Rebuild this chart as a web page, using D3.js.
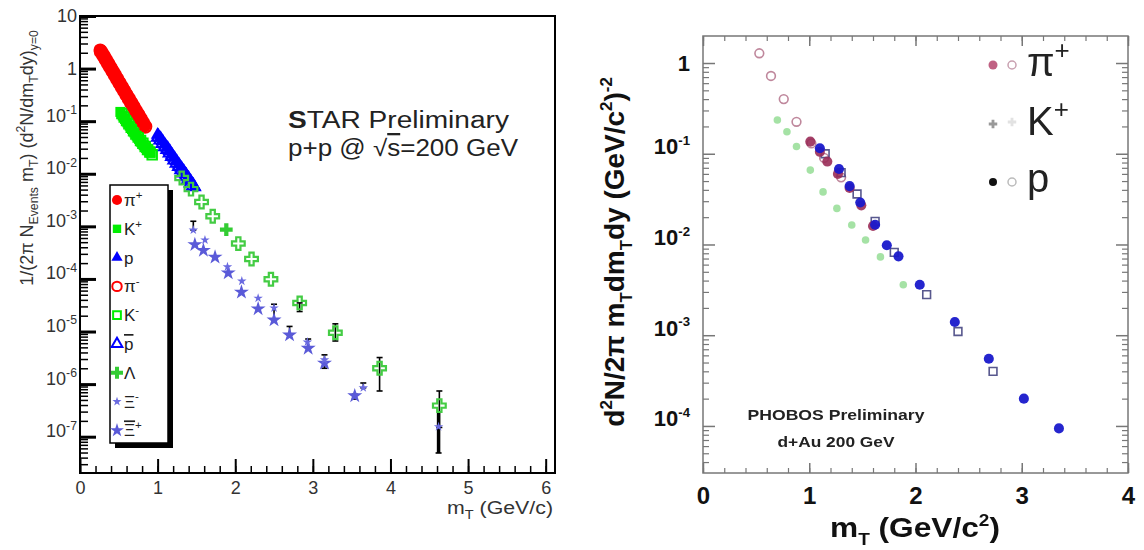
<!DOCTYPE html>
<html><head><meta charset="utf-8">
<script src="https://cdn.jsdelivr.net/npm/d3@7"></script>
<style>
body{margin:0;background:#fff}
svg{display:block}
text{font-family:Arial,"Liberation Sans",Helvetica,sans-serif}
</style></head>
<body><svg id="c" width="1144" height="550"></svg>
<script>
// ---------------- LEFT PANEL DATA (STAR p+p) ----------------
const leftXTicks = [0,1,2,3,4,5,6];
const leftYExps = [1,0,-1,-2,-3,-4,-5,-6,-7];
const piPlus = [[0.26,2.25],[0.29,1.90],[0.32,1.60],[0.35,1.35],[0.38,1.12],[0.41,0.95],[0.44,0.80],[0.47,0.67],[0.50,0.56],[0.53,0.47],[0.56,0.40],[0.59,0.335],[0.62,0.28],[0.65,0.235],[0.68,0.20],[0.71,0.165],[0.74,0.14],[0.77,0.117],[0.80,0.098],[0.83,0.082]];
const piMinus = [[0.27,2.10],[0.30,1.78],[0.33,1.50],[0.36,1.26],[0.39,1.06],[0.42,0.89],[0.45,0.75],[0.48,0.63],[0.51,0.53],[0.54,0.445],[0.57,0.375],[0.60,0.315],[0.63,0.265],[0.66,0.223],[0.69,0.188],[0.72,0.158],[0.75,0.133],[0.78,0.112],[0.81,0.094],[0.84,0.079]];
const kPlus = [[0.52,0.150],[0.55,0.128],[0.58,0.110],[0.61,0.095],[0.64,0.082],[0.67,0.071],[0.70,0.061],[0.73,0.053],[0.76,0.046],[0.79,0.040],[0.82,0.035],[0.85,0.031],[0.88,0.028],[0.91,0.025]];
const kMinus = [[0.54,0.140],[0.57,0.120],[0.60,0.103],[0.63,0.089],[0.66,0.077],[0.69,0.066],[0.72,0.057],[0.75,0.050],[0.78,0.043],[0.81,0.038],[0.84,0.033],[0.87,0.029],[0.90,0.026],[0.93,0.023]];
const proton = [[1.00,0.055],[1.03,0.048],[1.06,0.042],[1.09,0.036],[1.12,0.031],[1.15,0.027],[1.18,0.023],[1.21,0.020],[1.24,0.0175],[1.27,0.0150],[1.30,0.0130],[1.33,0.0113],[1.36,0.0098],[1.39,0.0085],[1.42,0.0073],[1.45,0.0063],[1.48,0.0055]];
const pBar = [[1.01,0.050],[1.04,0.044],[1.07,0.038],[1.10,0.033],[1.13,0.029],[1.16,0.025],[1.19,0.0215],[1.22,0.0185],[1.25,0.016],[1.28,0.0138],[1.31,0.012],[1.34,0.0104],[1.37,0.009],[1.40,0.0078],[1.43,0.0067],[1.46,0.0058]];
const lambda = [[1.885,0.00087]];
const lambdaOpen = [[1.31,0.0083],[1.43,0.0051],[1.566,0.0029],[1.71,0.00155],[2.04,0.00047],[2.21,0.00024],[2.46,0.000099],[2.83,0.000035],[3.29,0.0000095],[3.86,0.0000020],[4.63,0.00000039]];
const xiMinus = [[1.46,0.00085],[1.61,0.00055],[1.90,0.00017],[2.085,0.000091],[2.295,0.000043],[2.50,0.000028],[2.93,0.0000063],[3.15,0.0000029],[3.65,0.00000085],[4.62,0.000000155]];
const xiBarPlus = [[1.48,0.00045],[1.59,0.00035],[1.74,0.00026],[1.91,0.00013],[2.08,0.000056],[2.295,0.000027],[2.50,0.0000166],[2.70,0.0000086],[2.94,0.0000048],[3.15,0.0000025],[3.54,0.00000060]];
const errBars = [[1.46,0.00085,0.00125],[2.50,0.0000166,0.000033],[2.70,0.0000086,0.0000125],[2.94,0.0000048,0.0000072],[3.15,0.0000020,0.0000036],[3.54,0.00000052,0.00000064],[3.65,0.00000085,0.00000105],[2.83,0.000024,0.000035],[3.29,0.0000066,0.000014],[3.86,0.00000074,0.0000032],[4.63,0.00000015,0.00000074]];
const bigErr = [[4.62,0.000000049,0.00000030]];
const leftLegend = [
  {key:"piPlus", parts:[{t:"π"},{t:"+",sup:1}]},
  {key:"kPlus", parts:[{t:"K"},{t:"+",sup:1}]},
  {key:"proton", parts:[{t:"p"}]},
  {key:"piMinus", parts:[{t:"π"},{t:"-",sup:1}]},
  {key:"kMinus", parts:[{t:"K"},{t:"-",sup:1}]},
  {key:"pBar", parts:[{t:"p",over:1}]},
  {key:"lambda", parts:[{t:"Λ"}]},
  {key:"xiMinus", parts:[{t:"Ξ"},{t:"-",sup:1}]},
  {key:"xiBarPlus", parts:[{t:"Ξ",over:1},{t:"+",sup:1}]}
];

// ---------------- RIGHT PANEL DATA (PHOBOS d+Au) ----------------
const rightXTicks = [0,1,2,3,4];
const rightYExps = [0,-1,-2,-3,-4];
const phPiFilled = [[1.01,0.136],[1.10,0.105],[1.17,0.082],[1.27,0.060],[1.38,0.042],[1.49,0.027],[1.60,0.016]];
const phPiOpen = [[0.53,1.28],[0.64,0.72],[0.76,0.40],[0.88,0.225],[1.02,0.13],[1.14,0.09],[1.30,0.055]];
const phK = [[0.70,0.235],[0.79,0.175],[0.88,0.12],[1.01,0.066],[1.13,0.038],[1.26,0.025],[1.40,0.0164],[1.53,0.0112],[1.67,0.0073],[1.885,0.0036]];
const phPFilled = [[1.10,0.115],[1.28,0.068],[1.38,0.044],[1.48,0.029],[1.62,0.0165],[1.73,0.0098],[1.84,0.0074],[2.04,0.0036],[2.37,0.0014],[2.69,0.00055],[3.02,0.0002],[3.35,0.000094]];
const phPOpen = [[1.15,0.10],[1.30,0.062],[1.45,0.036],[1.62,0.018],[1.80,0.0082],[2.105,0.0028],[2.40,0.0011],[2.73,0.0004]];

// ---------------- helpers ----------------
const svg = d3.select("#c");
function rich(sel, parts, size){
  let shift = 0;
  parts.forEach(p=>{
    const target = p.sup ? -0.42*size : (p.sub ? 0.28*size : 0);
    const ts = sel.append("tspan").attr("dy", target-shift).text(p.t);
    if(p.sup||p.sub) ts.attr("font-size",(p.scale||0.68)*size);
    if(p.over) ts.style("text-decoration","overline");
    if(p.bold) ts.attr("font-weight","bold");
    shift = target;
  });
  return sel;
}
function minorLogTicks(lo, hi){
  const out=[];
  for(let e=Math.floor(Math.log10(lo)); e<=Math.ceil(Math.log10(hi)); e++){
    for(let k=2;k<=9;k++){const v=k*Math.pow(10,e); if(v>=lo&&v<=hi) out.push(v);}
  }
  return out;
}
const sym = (type,size)=>d3.symbol().type(type).size(size)();

// ================= LEFT PANEL =================
const xL = d3.scaleLinear().domain([0,6.12]).range([80,555]);
const yL = d3.scaleLog().domain([2.04e-8,10]).range([473,16]);
const gL = svg.append("g");

const yMin = gL.append("g").attr("transform","translate(80,0)")
  .call(d3.axisLeft(yL).tickValues(minorLogTicks(2.04e-8,10)).tickSize(-8).tickFormat(""));
yMin.selectAll("line").attr("stroke","#000").attr("stroke-width",1.5);
const yMaj = gL.append("g").attr("transform","translate(80,0)")
  .call(d3.axisLeft(yL).tickValues(leftYExps.map(e=>Math.pow(10,e))).tickSize(-16).tickPadding(3));
yMaj.selectAll("line").attr("stroke","#000").attr("stroke-width",3);
yMaj.selectAll("text").attr("font-size",18).attr("fill","#333").each(function(d){
  const e=Math.round(Math.log10(d)); const t=d3.select(this); t.text(null);
  if(e===1) t.text("10"); else if(e===0) t.text("1");
  else rich(t,[{t:"10"},{t:"-"+(-e),sup:1}],18);
});
const xMin = gL.append("g").attr("transform","translate(0,473)")
  .call(d3.axisBottom(xL).tickValues(d3.range(0,31).map(i=>i*0.2).filter(v=>v<=6.12)).tickSize(-7).tickFormat(""));
xMin.selectAll("line").attr("stroke","#000").attr("stroke-width",1.5);
const xMaj = gL.append("g").attr("transform","translate(0,473)")
  .call(d3.axisBottom(xL).tickValues(leftXTicks).tickSize(-14).tickPadding(8).tickFormat(d3.format("d")));
xMaj.selectAll("line").attr("stroke","#000").attr("stroke-width",2);
xMaj.selectAll("text").attr("font-size",18).attr("fill","#333");
gL.selectAll(".domain").remove();
gL.append("rect").attr("x",80).attr("y",16).attr("width",475).attr("height",457)
  .attr("fill","none").attr("stroke","#000").attr("stroke-width",2);

const eb = gL.append("g").attr("stroke","#000").attr("stroke-width",1.6);
errBars.forEach(d=>{
  const x=xL(d[0]);
  eb.append("line").attr("x1",x).attr("x2",x).attr("y1",yL(d[1])).attr("y2",yL(d[2]));
  eb.append("line").attr("x1",x-3).attr("x2",x+3).attr("y1",yL(d[2])).attr("y2",yL(d[2]));
  eb.append("line").attr("x1",x-3).attr("x2",x+3).attr("y1",yL(d[1])).attr("y2",yL(d[1]));
});
bigErr.forEach(d=>{
  const x=xL(d[0]);
  eb.append("line").attr("x1",x).attr("x2",x).attr("y1",yL(d[1])).attr("y2",yL(d[2])).attr("stroke-width",3.5);
  eb.append("line").attr("x1",x-3).attr("x2",x+3).attr("y1",yL(d[1])).attr("y2",yL(d[1]));
});

const leftStyles = {
  piMinus:{data:piMinus,type:d3.symbolCircle,size:120,fill:"none",stroke:"#ff0000",sw:2},
  kMinus:{data:kMinus,type:d3.symbolSquare,size:90,fill:"none",stroke:"#00ee00",sw:2},
  pBar:{data:pBar,type:d3.symbolTriangle,size:70,fill:"none",stroke:"#0000ff",sw:2},
  piPlus:{data:piPlus,type:d3.symbolCircle,size:140,fill:"#ff0000",stroke:"none",sw:0},
  kPlus:{data:kPlus,type:d3.symbolSquare,size:100,fill:"#00ee00",stroke:"none",sw:0},
  proton:{data:proton,type:d3.symbolTriangle,size:80,fill:"#0000ff",stroke:"none",sw:0},
  lambdaOpen:{data:lambdaOpen,type:d3.symbolCross,size:90,fill:"none",stroke:"#44cc44",sw:2.2},
  lambda:{data:lambda,type:d3.symbolCross,size:90,fill:"#33cc33",stroke:"none",sw:0},
  xiBarPlus:{data:xiBarPlus,type:d3.symbolStar,size:70,fill:"#5a5ad8",stroke:"none",sw:0},
  xiMinus:{data:xiMinus,type:d3.symbolStar,size:28,fill:"#6a6ae0",stroke:"none",sw:0}
};
["piMinus","kMinus","pBar","piPlus","kPlus","proton","lambdaOpen","lambda","xiBarPlus","xiMinus"].forEach(k=>{
  const s=leftStyles[k];
  gL.append("g").selectAll("path").data(s.data).join("path")
    .attr("transform",d=>`translate(${xL(d[0])},${yL(d[1])})`)
    .attr("d",sym(s.type,s.size)).attr("fill",s.fill).attr("stroke",s.stroke).attr("stroke-width",s.sw);
});

const lg = gL.append("g");
lg.append("rect").attr("x",115).attr("y",190).attr("width",58).attr("height",258).attr("fill","#000");
lg.append("rect").attr("x",110).attr("y",185).attr("width",58).attr("height",258).attr("fill","#fff").attr("stroke","#000").attr("stroke-width",1.5);
const legSize = {piPlus:80,kPlus:70,proton:55,piMinus:70,kMinus:60,pBar:50,lambda:80,xiMinus:26,xiBarPlus:60};
leftLegend.forEach((it,i)=>{
  const s=leftStyles[it.key]; const cy=200+i*28.8;
  lg.append("path").attr("transform",`translate(117,${cy})`).attr("d",sym(s.type,legSize[it.key]))
    .attr("fill",s.fill).attr("stroke",s.stroke).attr("stroke-width",s.sw);
  rich(lg.append("text").attr("x",124).attr("y",cy+6).attr("font-size",17).attr("fill","#222"),it.parts,17);
});

const st = gL.append("text").attr("x",288).attr("y",128).attr("font-size",23).attr("fill","#222").attr("textLength",221).attr("lengthAdjust","spacingAndGlyphs");
st.append("tspan").attr("font-weight","bold").text("S");
st.append("tspan").text("TAR Preliminary");
const st2 = gL.append("text").attr("x",288).attr("y",156).attr("font-size",23).attr("fill","#222").attr("textLength",230).attr("lengthAdjust","spacingAndGlyphs");
st2.append("tspan").text("p+p @ √");
st2.append("tspan").style("text-decoration","overline").text("s");
st2.append("tspan").text("=200 GeV");

rich(gL.append("text").attr("x",447).attr("y",514).attr("font-size",18).attr("fill","#333").attr("textLength",106).attr("lengthAdjust","spacingAndGlyphs"),
  [{t:"m"},{t:"T",sub:1},{t:" (GeV/c)"}],18);
rich(gL.append("text").attr("transform","translate(33,158) rotate(-90)").attr("text-anchor","middle").attr("font-size",18).attr("fill","#333"),
  [{t:"1/(2π N"},{t:"Events",sub:1},{t:" m"},{t:"T",sub:1},{t:") (d"},{t:"2",sup:1},{t:"N/dm"},{t:"T",sub:1},{t:"dy)"},{t:"y=0",sub:1}],18);

// ================= RIGHT PANEL =================
const xR = d3.scaleLinear().domain([0,4]).range([703,1128]);
const yR = d3.scaleLog().domain([3.03e-5,1.985]).range([473,36]);
const gR = svg.append("g");
const fc = "#777";
function styleAx(g,w){ g.selectAll("line").attr("stroke",fc).attr("stroke-width",w); }
const rMinor = minorLogTicks(3.03e-5,1.985);
const rMajor = rightYExps.map(e=>Math.pow(10,e));
styleAx(gR.append("g").attr("transform","translate(703,0)").call(d3.axisLeft(yR).tickValues(rMinor).tickSize(-6).tickFormat("")),1.2);
styleAx(gR.append("g").attr("transform","translate(1128,0)").call(d3.axisRight(yR).tickValues(rMinor).tickSize(-6).tickFormat("")),1.2);
styleAx(gR.append("g").attr("transform","translate(1128,0)").call(d3.axisRight(yR).tickValues(rMajor).tickSize(-12).tickFormat("")),1.5);
const ryMaj = gR.append("g").attr("transform","translate(703,0)").call(d3.axisLeft(yR).tickValues(rMajor).tickSize(-12).tickPadding(13));
styleAx(ryMaj,1.5);
ryMaj.selectAll("text").attr("font-size",22).attr("font-weight","bold").attr("fill","#111").each(function(d){
  const e=Math.round(Math.log10(d)); const t=d3.select(this); t.text(null);
  if(e===0) t.text("1"); else rich(t,[{t:"10"},{t:"-"+(-e),sup:1,scale:0.6}],22);
});
const rMinorX = d3.range(0,21).map(i=>i*0.2);
styleAx(gR.append("g").attr("transform","translate(0,473)").call(d3.axisBottom(xR).tickValues(rMinorX).tickSize(-5).tickFormat("")),1.2);
styleAx(gR.append("g").attr("transform","translate(0,36)").call(d3.axisTop(xR).tickValues(rMinorX).tickSize(-5).tickFormat("")),1.2);
styleAx(gR.append("g").attr("transform","translate(0,36)").call(d3.axisTop(xR).tickValues(rightXTicks).tickSize(-10).tickFormat("")),1.5);
const rxMaj = gR.append("g").attr("transform","translate(0,473)").call(d3.axisBottom(xR).tickValues(rightXTicks).tickSize(-10).tickPadding(14).tickFormat(d3.format("d")));
styleAx(rxMaj,1.5);
rxMaj.selectAll("text").attr("font-size",24).attr("font-weight","bold").attr("fill","#111");
gR.selectAll(".domain").remove();
gR.append("rect").attr("x",703).attr("y",36).attr("width",425).attr("height",437).attr("fill","none").attr("stroke",fc).attr("stroke-width",1.5);

function drawR(data,type,size,fill,stroke,sw,op){
  gR.append("g").attr("opacity",op).selectAll("path").data(data).join("path")
    .attr("transform",d=>`translate(${xR(d[0])},${yR(d[1])})`)
    .attr("d",sym(type,size)).attr("fill",fill).attr("stroke",stroke).attr("stroke-width",sw);
}
drawR(phK,d3.symbolCircle,45,"#5ccc5c","none",0,0.55);
drawR(phPiOpen,d3.symbolCircle,60,"none","#b06a84",1.6,0.8);
drawR(phPOpen,d3.symbolSquare,60,"none","#3a3a7a",1.6,0.85);
drawR(phPiFilled,d3.symbolCircle,80,"#9b2d58","none",0,0.9);
drawR(phPFilled,d3.symbolCircle,80,"#1a1acc","none",0,0.95);

const rl = gR.append("g");
rl.append("circle").attr("cx",993).attr("cy",65).attr("r",4.5).attr("fill","#b03a64").attr("opacity",0.8);
rl.append("circle").attr("cx",1012).attr("cy",65).attr("r",4).attr("fill","none").attr("stroke","#c8a0b0").attr("stroke-width",1.5);
rl.append("path").attr("transform","translate(993,124)").attr("d",sym(d3.symbolCross,40)).attr("fill","#999");
rl.append("path").attr("transform","translate(1012,122)").attr("d",sym(d3.symbolCross,40)).attr("fill","#e2e2e2");
rl.append("circle").attr("cx",993).attr("cy",182).attr("r",4).attr("fill","#111");
rl.append("circle").attr("cx",1012).attr("cy",182).attr("r",4).attr("fill","none").attr("stroke","#bbb").attr("stroke-width",1.5);
rich(rl.append("text").attr("x",1027).attr("y",76).attr("font-size",40).attr("fill","#222"),[{t:"π"},{t:"+",sup:1,scale:0.65}],40);
rich(rl.append("text").attr("x",1027).attr("y",135).attr("font-size",40).attr("fill","#222"),[{t:"K"},{t:"+",sup:1,scale:0.65}],40);
rl.append("text").attr("x",1027).attr("y",192).attr("font-size",40).attr("fill","#222").text("p");

gR.append("text").attr("x",836).attr("y",420).attr("text-anchor","middle").attr("font-size",15).attr("font-weight","bold").attr("fill","#222").attr("textLength",177).attr("lengthAdjust","spacingAndGlyphs").text("PHOBOS Preliminary");
gR.append("text").attr("x",836).attr("y",447).attr("text-anchor","middle").attr("font-size",15).attr("font-weight","bold").attr("fill","#222").attr("textLength",117).attr("lengthAdjust","spacingAndGlyphs").text("d+Au 200 GeV");

rich(gR.append("text").attr("x",830).attr("y",537).attr("font-size",27).attr("font-weight","bold").attr("fill","#111").attr("textLength",170).attr("lengthAdjust","spacingAndGlyphs"),
  [{t:"m"},{t:"T",sub:1,scale:0.6},{t:" (GeV/c"},{t:"2",sup:1,scale:0.6},{t:")"}],27);
rich(gR.append("text").attr("transform","translate(624,252) rotate(-90)").attr("text-anchor","middle").attr("font-size",28).attr("font-weight","bold").attr("fill","#111"),
  [{t:"d"},{t:"2",sup:1,scale:0.6},{t:"N/2π m"},{t:"T",sub:1,scale:0.6},{t:"dm"},{t:"T",sub:1,scale:0.6},{t:"dy (GeV/c"},{t:"2",sup:1,scale:0.6},{t:")"},{t:"-2",sup:1,scale:0.6}],28);
</script></body></html>
